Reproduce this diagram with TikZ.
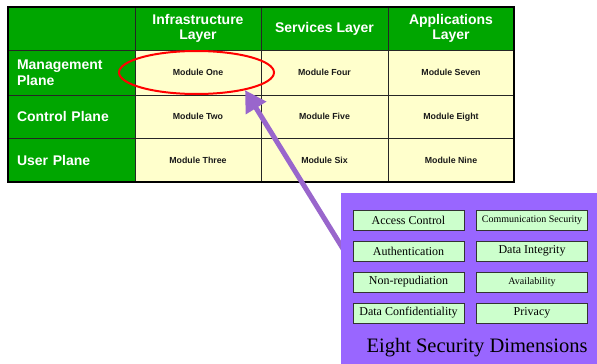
\documentclass[tikz,border=0pt]{standalone}
\usepackage{fontspec}
\setmainfont{Liberation Serif}
\setsansfont{Liberation Sans}
\usetikzlibrary{arrows.meta,shapes.geometric}

\definecolor{tablegreen}{HTML}{00A600}
\definecolor{cellcream}{HTML}{FFFFCC}
\definecolor{dimviolet}{HTML}{9966FF}
\definecolor{arrowviolet}{HTML}{9966CC}
\definecolor{tagmint}{HTML}{CCFFCC}

\begin{document}
\begin{tikzpicture}[x=1pt,y=-1pt,
  cell/.style={draw=black!85, line width=0.8pt, inner sep=0pt, outer sep=0pt},
  headcell/.style={cell, fill=tablegreen, text=white, align=center,
    font=\sffamily\bfseries\fontsize{14}{15}\selectfont},
  rowcell/.style={cell, fill=tablegreen, text=white, align=left,
    text width=109pt, inner xsep=9pt, minimum width=127pt,
    font=\sffamily\bfseries\fontsize{14}{16}\selectfont},
  modcell/.style={cell, fill=cellcream, text=black!90,
    font=\sffamily\bfseries\fontsize{8.8}{10}\selectfont},
  tag/.style={draw=black!80, line width=0.6pt, fill=tagmint, inner sep=0pt,
    minimum width=111pt, minimum height=20pt,
    font=\fontsize{12}{12}\selectfont},
  smalltag/.style={tag, font=\fontsize{10}{10}\selectfont}
]
\useasboundingbox (0,0) rectangle (597,364);

% header row
\node[headcell, minimum width=127pt, minimum height=43pt] (c00) at (71.5,28.5) {};
\node[headcell, minimum width=126pt, minimum height=43pt] (c01) at (198,28.5) {Infrastructure\\Layer};
\node[headcell, minimum width=127pt, minimum height=43pt] (c02) at (324.5,28.5) {Services Layer};
\node[headcell, minimum width=126pt, minimum height=43pt] (c03) at (451,28.5) {Applications\\Layer};

% management plane
\node[rowcell, minimum height=45.5pt] (c10) at (71.5,72.75) {Management\\Plane};
\node[modcell, minimum width=126pt, minimum height=45.5pt] (c11) at (198,72.75) {Module One};
\node[modcell, minimum width=127pt, minimum height=45.5pt] (c12) at (324.5,72.75) {Module Four};
\node[modcell, minimum width=126pt, minimum height=45.5pt] (c13) at (451,72.75) {Module Seven};

% control plane
\node[rowcell, minimum height=42.5pt] (c20) at (71.5,116.75) {Control Plane};
\node[modcell, minimum width=126pt, minimum height=42.5pt] (c21) at (198,116.75) {Module Two};
\node[modcell, minimum width=127pt, minimum height=42.5pt] (c22) at (324.5,116.75) {Module Five};
\node[modcell, minimum width=126pt, minimum height=42.5pt] (c23) at (451,116.75) {Module Eight};

% user plane
\node[rowcell, minimum height=44pt] (c30) at (71.5,160) {User Plane};
\node[modcell, minimum width=126pt, minimum height=44pt] (c31) at (198,160) {Module Three};
\node[modcell, minimum width=127pt, minimum height=44pt] (c32) at (324.5,160) {Module Six};
\node[modcell, minimum width=126pt, minimum height=44pt] (c33) at (451,160) {Module Nine};

% heavy outer frame
\draw[line width=2.2pt, black] (c00.north west) rectangle (c33.south east);

% highlight ring around the first module
\node[draw=red, line width=2pt, ellipse, minimum width=155pt, minimum height=43pt,
  inner sep=0pt] (ring) at (196.5,72.5) {};

% pointer from the dimensions panel
\coordinate (tail) at (345,252);
\draw[arrowviolet, line width=5pt, -{Triangle[length=21pt,width=23pt]}]
  (tail) -- (ring.-20);

% security dimensions panel
\node[fill=dimviolet, minimum width=256pt, minimum height=171pt, inner sep=0pt,
  anchor=north west] (dims) at (341,193) {};

\node[tag] (d1) at (408.5,220) {Access Control};
\node[smalltag] (d2) at (532,220) {Communication Security};
\node[tag] (d3) at (408.5,251) {Authentication};
\node[tag] (d4) at (532,251) {Data Integrity};
\node[tag] (d5) at (408.5,282) {Non-repudiation};
\node[smalltag] (d6) at (532,282) {Availability};
\node[tag] (d7) at (408.5,313) {Data Confidentiality};
\node[tag] (d8) at (532,313) {Privacy};

\node[anchor=base, font=\fontsize{20.5}{22}\selectfont] (dimtitle) at (477,352)
  {Eight Security Dimensions};
\end{tikzpicture}
\end{document}
